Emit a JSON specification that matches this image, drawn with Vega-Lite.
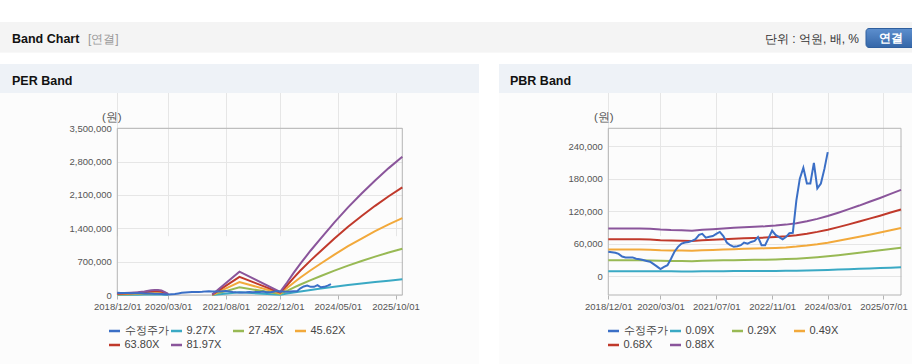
{
"$schema":"https://vega.github.io/schema/vega-lite/v6.json",
"width":912,"height":364,"autosize":{"type":"none"},"padding":0,"background":"#fcfcfc",
"config":{"view":{"stroke":null},"font":"Liberation Sans","axisX":{"labelFlush":false}},
"datasets":{
"price":[
{"d":"2018-12-01","s":"수정주가","v":45000},{"d":"2019-01-01","s":"수정주가","v":44000},{"d":"2019-02-01","s":"수정주가","v":43000},{"d":"2019-03-01","s":"수정주가","v":41000},{"d":"2019-04-01","s":"수정주가","v":36000},{"d":"2019-05-01","s":"수정주가","v":34500},{"d":"2019-06-01","s":"수정주가","v":34500},{"d":"2019-07-01","s":"수정주가","v":34500},{"d":"2019-08-01","s":"수정주가","v":32000},{"d":"2019-09-01","s":"수정주가","v":31000},{"d":"2019-10-01","s":"수정주가","v":29500},{"d":"2019-11-01","s":"수정주가","v":28000},{"d":"2019-12-01","s":"수정주가","v":26500},{"d":"2020-01-01","s":"수정주가","v":22000},{"d":"2020-02-01","s":"수정주가","v":17500},{"d":"2020-03-01","s":"수정주가","v":12900},{"d":"2020-04-01","s":"수정주가","v":17000},{"d":"2020-05-01","s":"수정주가","v":20000},{"d":"2020-06-01","s":"수정주가","v":32000},{"d":"2020-07-01","s":"수정주가","v":45000},{"d":"2020-08-01","s":"수정주가","v":54000},{"d":"2020-09-01","s":"수정주가","v":60000},{"d":"2020-10-01","s":"수정주가","v":62000},{"d":"2020-11-01","s":"수정주가","v":63000},{"d":"2020-12-01","s":"수정주가","v":65000},{"d":"2021-01-01","s":"수정주가","v":68000},{"d":"2021-02-01","s":"수정주가","v":76000},{"d":"2021-03-01","s":"수정주가","v":78000},{"d":"2021-04-01","s":"수정주가","v":71000},{"d":"2021-05-01","s":"수정주가","v":72500},{"d":"2021-06-01","s":"수정주가","v":74000},{"d":"2021-07-01","s":"수정주가","v":78000},{"d":"2021-08-01","s":"수정주가","v":81500},{"d":"2021-09-01","s":"수정주가","v":74000},{"d":"2021-10-01","s":"수정주가","v":62000},{"d":"2021-11-01","s":"수정주가","v":57000},{"d":"2021-12-01","s":"수정주가","v":54000},{"d":"2022-01-01","s":"수정주가","v":55000},{"d":"2022-02-01","s":"수정주가","v":57000},{"d":"2022-03-01","s":"수정주가","v":62000},{"d":"2022-04-01","s":"수정주가","v":60000},{"d":"2022-05-01","s":"수정주가","v":63000},{"d":"2022-06-01","s":"수정주가","v":65000},{"d":"2022-07-01","s":"수정주가","v":72000},{"d":"2022-08-01","s":"수정주가","v":57000},{"d":"2022-09-01","s":"수정주가","v":57000},{"d":"2022-10-01","s":"수정주가","v":70000},{"d":"2022-11-01","s":"수정주가","v":84000},{"d":"2022-12-01","s":"수정주가","v":76000},{"d":"2023-01-01","s":"수정주가","v":72000},{"d":"2023-02-01","s":"수정주가","v":68000},{"d":"2023-03-01","s":"수정주가","v":72000},{"d":"2023-04-01","s":"수정주가","v":79000},{"d":"2023-05-01","s":"수정주가","v":80000},{"d":"2023-06-01","s":"수정주가","v":140000},{"d":"2023-07-01","s":"수정주가","v":180000},{"d":"2023-08-01","s":"수정주가","v":200000},{"d":"2023-09-01","s":"수정주가","v":171000},{"d":"2023-10-01","s":"수정주가","v":171000},{"d":"2023-11-01","s":"수정주가","v":209000},{"d":"2023-12-01","s":"수정주가","v":162000},{"d":"2024-01-01","s":"수정주가","v":171000},{"d":"2024-02-01","s":"수정주가","v":198000},{"d":"2024-03-01","s":"수정주가","v":229000}
],
"per":[
{"d":"2018-12-01","s":"9.27X","v":4172,"g":1},{"d":"2018-12-01","s":"27.45X","v":12353,"g":1},{"d":"2018-12-01","s":"45.62X","v":20529,"g":1},{"d":"2018-12-01","s":"63.80X","v":28710,"g":1},{"d":"2018-12-01","s":"81.97X","v":36887,"g":1},
{"d":"2019-02-01","s":"9.27X","v":4820,"g":1},{"d":"2019-02-01","s":"27.45X","v":14274,"g":1},{"d":"2019-02-01","s":"45.62X","v":23722,"g":1},{"d":"2019-02-01","s":"63.80X","v":33176,"g":1},{"d":"2019-02-01","s":"81.97X","v":42624,"g":1},
{"d":"2019-04-01","s":"9.27X","v":5469,"g":1},{"d":"2019-04-01","s":"27.45X","v":16196,"g":1},{"d":"2019-04-01","s":"45.62X","v":26916,"g":1},{"d":"2019-04-01","s":"63.80X","v":37642,"g":1},{"d":"2019-04-01","s":"81.97X","v":48362,"g":1},
{"d":"2019-06-01","s":"9.27X","v":6489,"g":1},{"d":"2019-06-01","s":"27.45X","v":19215,"g":1},{"d":"2019-06-01","s":"45.62X","v":31934,"g":1},{"d":"2019-06-01","s":"63.80X","v":44660,"g":1},{"d":"2019-06-01","s":"81.97X","v":57379,"g":1},
{"d":"2019-08-01","s":"9.27X","v":8065,"g":1},{"d":"2019-08-01","s":"27.45X","v":23882,"g":1},{"d":"2019-08-01","s":"45.62X","v":39689,"g":1},{"d":"2019-08-01","s":"63.80X","v":55506,"g":1},{"d":"2019-08-01","s":"81.97X","v":71314,"g":1},
{"d":"2019-10-01","s":"9.27X","v":11124,"g":1},{"d":"2019-10-01","s":"27.45X","v":32940,"g":1},{"d":"2019-10-01","s":"45.62X","v":54744,"g":1},{"d":"2019-10-01","s":"63.80X","v":76560,"g":1},{"d":"2019-10-01","s":"81.97X","v":98364,"g":1},
{"d":"2019-11-01","s":"9.27X","v":11958,"g":1},{"d":"2019-11-01","s":"27.45X","v":35411,"g":1},{"d":"2019-11-01","s":"45.62X","v":58850,"g":1},{"d":"2019-11-01","s":"63.80X","v":82302,"g":1},{"d":"2019-11-01","s":"81.97X","v":105741,"g":1},
{"d":"2019-12-01","s":"9.27X","v":11866,"g":1},{"d":"2019-12-01","s":"27.45X","v":35136,"g":1},{"d":"2019-12-01","s":"45.62X","v":58394,"g":1},{"d":"2019-12-01","s":"63.80X","v":81664,"g":1},{"d":"2019-12-01","s":"81.97X","v":104922,"g":1},
{"d":"2020-01-01","s":"9.27X","v":10661,"g":1},{"d":"2020-01-01","s":"27.45X","v":31568,"g":1},{"d":"2020-01-01","s":"45.62X","v":52463,"g":1},{"d":"2020-01-01","s":"63.80X","v":73370,"g":1},{"d":"2020-01-01","s":"81.97X","v":94266,"g":1},
{"d":"2020-02-01","s":"9.27X","v":6953,"g":1},{"d":"2020-02-01","s":"27.45X","v":20588,"g":1},{"d":"2020-02-01","s":"45.62X","v":34215,"g":1},{"d":"2020-02-01","s":"63.80X","v":47850,"g":1},{"d":"2020-02-01","s":"81.97X","v":61478,"g":1},
{"d":"2020-03-01","s":"9.27X","v":2596,"g":1},{"d":"2020-03-01","s":"27.45X","v":7686,"g":1},{"d":"2020-03-01","s":"45.62X","v":12774,"g":1},{"d":"2020-03-01","s":"63.80X","v":17864,"g":1},{"d":"2020-03-01","s":"81.97X","v":22952,"g":1},
{"d":"2021-04-01","s":"9.27X","v":927,"g":2},{"d":"2021-04-01","s":"27.45X","v":2745,"g":2},{"d":"2021-04-01","s":"45.62X","v":4562,"g":2},{"d":"2021-04-01","s":"63.80X","v":6380,"g":2},{"d":"2021-04-01","s":"81.97X","v":8197,"g":2},
{"d":"2021-12-01","s":"9.27X","v":55435,"g":2},{"d":"2021-12-01","s":"27.45X","v":164151,"g":2},{"d":"2021-12-01","s":"45.62X","v":272808,"g":2},{"d":"2021-12-01","s":"63.80X","v":381524,"g":2},{"d":"2021-12-01","s":"81.97X","v":490181,"g":2},
{"d":"2022-12-01","s":"9.27X","v":7231,"g":2},{"d":"2022-12-01","s":"27.45X","v":21411,"g":2},{"d":"2022-12-01","s":"45.62X","v":35584,"g":2},{"d":"2022-12-01","s":"63.80X","v":49764,"g":2},{"d":"2022-12-01","s":"81.97X","v":63937,"g":2},
{"d":"2023-02-01","s":"9.27X","v":29664,"g":2},{"d":"2023-02-01","s":"27.45X","v":87840,"g":2},{"d":"2023-02-01","s":"45.62X","v":145984,"g":2},{"d":"2023-02-01","s":"63.80X","v":204160,"g":2},{"d":"2023-02-01","s":"81.97X","v":262304,"g":2},
{"d":"2023-04-01","s":"9.27X","v":52376,"g":2},{"d":"2023-04-01","s":"27.45X","v":155093,"g":2},{"d":"2023-04-01","s":"45.62X","v":257753,"g":2},{"d":"2023-04-01","s":"63.80X","v":360470,"g":2},{"d":"2023-04-01","s":"81.97X","v":463131,"g":2},
{"d":"2023-06-01","s":"9.27X","v":74624,"g":2},{"d":"2023-06-01","s":"27.45X","v":220973,"g":2},{"d":"2023-06-01","s":"45.62X","v":367241,"g":2},{"d":"2023-06-01","s":"63.80X","v":513590,"g":2},{"d":"2023-06-01","s":"81.97X","v":659859,"g":2},
{"d":"2023-09-01","s":"9.27X","v":105678,"g":2},{"d":"2023-09-01","s":"27.45X","v":312930,"g":2},{"d":"2023-09-01","s":"45.62X","v":520068,"g":2},{"d":"2023-09-01","s":"63.80X","v":727320,"g":2},{"d":"2023-09-01","s":"81.97X","v":934458,"g":2},
{"d":"2023-12-01","s":"9.27X","v":134415,"g":2},{"d":"2023-12-01","s":"27.45X","v":398025,"g":2},{"d":"2023-12-01","s":"45.62X","v":661490,"g":2},{"d":"2023-12-01","s":"63.80X","v":925100,"g":2},{"d":"2023-12-01","s":"81.97X","v":1188565,"g":2},
{"d":"2024-04-01","s":"9.27X","v":172422,"g":2},{"d":"2024-04-01","s":"27.45X","v":510570,"g":2},{"d":"2024-04-01","s":"45.62X","v":848532,"g":2},{"d":"2024-04-01","s":"63.80X","v":1186680,"g":2},{"d":"2024-04-01","s":"81.97X","v":1524642,"g":2},
{"d":"2024-08-01","s":"9.27X","v":208112,"g":2},{"d":"2024-08-01","s":"27.45X","v":616253,"g":2},{"d":"2024-08-01","s":"45.62X","v":1024169,"g":2},{"d":"2024-08-01","s":"63.80X","v":1432310,"g":2},{"d":"2024-08-01","s":"81.97X","v":1840227,"g":2},
{"d":"2024-12-01","s":"9.27X","v":241020,"g":2},{"d":"2024-12-01","s":"27.45X","v":713700,"g":2},{"d":"2024-12-01","s":"45.62X","v":1186120,"g":2},{"d":"2024-12-01","s":"63.80X","v":1658800,"g":2},{"d":"2024-12-01","s":"81.97X","v":2131220,"g":2},
{"d":"2025-04-01","s":"9.27X","v":272075,"g":2},{"d":"2025-04-01","s":"27.45X","v":805658,"g":2},{"d":"2025-04-01","s":"45.62X","v":1338947,"g":2},{"d":"2025-04-01","s":"63.80X","v":1872530,"g":2},{"d":"2025-04-01","s":"81.97X","v":2405820,"g":2},
{"d":"2025-08-01","s":"9.27X","v":301275,"g":2},{"d":"2025-08-01","s":"27.45X","v":892125,"g":2},{"d":"2025-08-01","s":"45.62X","v":1482650,"g":2},{"d":"2025-08-01","s":"63.80X","v":2073500,"g":2},{"d":"2025-08-01","s":"81.97X","v":2664025,"g":2},
{"d":"2025-12-01","s":"9.27X","v":328158,"g":2},{"d":"2025-12-01","s":"27.45X","v":971730,"g":2},{"d":"2025-12-01","s":"45.62X","v":1614948,"g":2},{"d":"2025-12-01","s":"63.80X","v":2258520,"g":2},{"d":"2025-12-01","s":"81.97X","v":2901738,"g":2}
],
"pbr":[
{"d":"2018-12-01","s":"0.09X","v":9000},{"d":"2018-12-01","s":"0.29X","v":29000},{"d":"2018-12-01","s":"0.49X","v":49000},{"d":"2018-12-01","s":"0.68X","v":68000},{"d":"2018-12-01","s":"0.88X","v":88000},
{"d":"2019-09-01","s":"0.09X","v":9000},{"d":"2019-09-01","s":"0.29X","v":29000},{"d":"2019-09-01","s":"0.49X","v":49000},{"d":"2019-09-01","s":"0.68X","v":68000},{"d":"2019-09-01","s":"0.88X","v":88000},
{"d":"2019-12-01","s":"0.09X","v":8955},{"d":"2019-12-01","s":"0.29X","v":28855},{"d":"2019-12-01","s":"0.49X","v":48755},{"d":"2019-12-01","s":"0.68X","v":67660},{"d":"2019-12-01","s":"0.88X","v":87560},
{"d":"2020-03-01","s":"0.09X","v":8775},{"d":"2020-03-01","s":"0.29X","v":28275},{"d":"2020-03-01","s":"0.49X","v":47775},{"d":"2020-03-01","s":"0.68X","v":66300},{"d":"2020-03-01","s":"0.88X","v":85800},
{"d":"2020-06-01","s":"0.09X","v":8685},{"d":"2020-06-01","s":"0.29X","v":27985},{"d":"2020-06-01","s":"0.49X","v":47285},{"d":"2020-06-01","s":"0.68X","v":65620},{"d":"2020-06-01","s":"0.88X","v":84920},
{"d":"2020-09-01","s":"0.09X","v":8640},{"d":"2020-09-01","s":"0.29X","v":27840},{"d":"2020-09-01","s":"0.49X","v":47040},{"d":"2020-09-01","s":"0.68X","v":65280},{"d":"2020-09-01","s":"0.88X","v":84480},
{"d":"2020-12-01","s":"0.09X","v":8550},{"d":"2020-12-01","s":"0.29X","v":27550},{"d":"2020-12-01","s":"0.49X","v":46550},{"d":"2020-12-01","s":"0.68X","v":64600},{"d":"2020-12-01","s":"0.88X","v":83600},
{"d":"2021-03-01","s":"0.09X","v":8730},{"d":"2021-03-01","s":"0.29X","v":28130},{"d":"2021-03-01","s":"0.49X","v":47530},{"d":"2021-03-01","s":"0.68X","v":65960},{"d":"2021-03-01","s":"0.88X","v":85360},
{"d":"2021-06-01","s":"0.09X","v":8865},{"d":"2021-06-01","s":"0.29X","v":28565},{"d":"2021-06-01","s":"0.49X","v":48265},{"d":"2021-06-01","s":"0.68X","v":66980},{"d":"2021-06-01","s":"0.88X","v":86680},
{"d":"2021-09-01","s":"0.09X","v":9000},{"d":"2021-09-01","s":"0.29X","v":29000},{"d":"2021-09-01","s":"0.49X","v":49000},{"d":"2021-09-01","s":"0.68X","v":68000},{"d":"2021-09-01","s":"0.88X","v":88000},
{"d":"2021-12-01","s":"0.09X","v":9135},{"d":"2021-12-01","s":"0.29X","v":29435},{"d":"2021-12-01","s":"0.49X","v":49735},{"d":"2021-12-01","s":"0.68X","v":69020},{"d":"2021-12-01","s":"0.88X","v":89320},
{"d":"2022-03-01","s":"0.09X","v":9225},{"d":"2022-03-01","s":"0.29X","v":29725},{"d":"2022-03-01","s":"0.49X","v":50225},{"d":"2022-03-01","s":"0.68X","v":69700},{"d":"2022-03-01","s":"0.88X","v":90200},
{"d":"2022-06-01","s":"0.09X","v":9315},{"d":"2022-06-01","s":"0.29X","v":30015},{"d":"2022-06-01","s":"0.49X","v":50715},{"d":"2022-06-01","s":"0.68X","v":70380},{"d":"2022-06-01","s":"0.88X","v":91080},
{"d":"2022-09-01","s":"0.09X","v":9405},{"d":"2022-09-01","s":"0.29X","v":30305},{"d":"2022-09-01","s":"0.49X","v":51205},{"d":"2022-09-01","s":"0.68X","v":71060},{"d":"2022-09-01","s":"0.88X","v":91960},
{"d":"2022-12-01","s":"0.09X","v":9540},{"d":"2022-12-01","s":"0.29X","v":30740},{"d":"2022-12-01","s":"0.49X","v":51940},{"d":"2022-12-01","s":"0.68X","v":72080},{"d":"2022-12-01","s":"0.88X","v":93280},
{"d":"2023-03-01","s":"0.09X","v":9720},{"d":"2023-03-01","s":"0.29X","v":31320},{"d":"2023-03-01","s":"0.49X","v":52920},{"d":"2023-03-01","s":"0.68X","v":73440},{"d":"2023-03-01","s":"0.88X","v":95040},
{"d":"2023-06-01","s":"0.09X","v":9990},{"d":"2023-06-01","s":"0.29X","v":32190},{"d":"2023-06-01","s":"0.49X","v":54390},{"d":"2023-06-01","s":"0.68X","v":75480},{"d":"2023-06-01","s":"0.88X","v":97680},
{"d":"2023-09-01","s":"0.09X","v":10350},{"d":"2023-09-01","s":"0.29X","v":33350},{"d":"2023-09-01","s":"0.49X","v":56350},{"d":"2023-09-01","s":"0.68X","v":78200},{"d":"2023-09-01","s":"0.88X","v":101200},
{"d":"2023-12-01","s":"0.09X","v":10800},{"d":"2023-12-01","s":"0.29X","v":34800},{"d":"2023-12-01","s":"0.49X","v":58800},{"d":"2023-12-01","s":"0.68X","v":81600},{"d":"2023-12-01","s":"0.88X","v":105600},
{"d":"2024-03-01","s":"0.09X","v":11340},{"d":"2024-03-01","s":"0.29X","v":36540},{"d":"2024-03-01","s":"0.49X","v":61740},{"d":"2024-03-01","s":"0.68X","v":85680},{"d":"2024-03-01","s":"0.88X","v":110880},
{"d":"2024-06-01","s":"0.09X","v":11970},{"d":"2024-06-01","s":"0.29X","v":38570},{"d":"2024-06-01","s":"0.49X","v":65170},{"d":"2024-06-01","s":"0.68X","v":90440},{"d":"2024-06-01","s":"0.88X","v":117040},
{"d":"2024-09-01","s":"0.09X","v":12645},{"d":"2024-09-01","s":"0.29X","v":40745},{"d":"2024-09-01","s":"0.49X","v":68845},{"d":"2024-09-01","s":"0.68X","v":95540},{"d":"2024-09-01","s":"0.88X","v":123640},
{"d":"2024-12-01","s":"0.09X","v":13320},{"d":"2024-12-01","s":"0.29X","v":42920},{"d":"2024-12-01","s":"0.49X","v":72520},{"d":"2024-12-01","s":"0.68X","v":100640},{"d":"2024-12-01","s":"0.88X","v":130240},
{"d":"2025-03-01","s":"0.09X","v":14040},{"d":"2025-03-01","s":"0.29X","v":45240},{"d":"2025-03-01","s":"0.49X","v":76440},{"d":"2025-03-01","s":"0.68X","v":106080},{"d":"2025-03-01","s":"0.88X","v":137280},
{"d":"2025-06-01","s":"0.09X","v":14760},{"d":"2025-06-01","s":"0.29X","v":47560},{"d":"2025-06-01","s":"0.49X","v":80360},{"d":"2025-06-01","s":"0.68X","v":111520},{"d":"2025-06-01","s":"0.88X","v":144320},
{"d":"2025-09-01","s":"0.09X","v":15525},{"d":"2025-09-01","s":"0.29X","v":50025},{"d":"2025-09-01","s":"0.49X","v":84525},{"d":"2025-09-01","s":"0.68X","v":117300},{"d":"2025-09-01","s":"0.88X","v":151800},
{"d":"2025-12-01","s":"0.09X","v":16290},{"d":"2025-12-01","s":"0.29X","v":52490},{"d":"2025-12-01","s":"0.49X","v":88690},{"d":"2025-12-01","s":"0.68X","v":123080},{"d":"2025-12-01","s":"0.88X","v":159280}
]
},
"layer":[
{"data":{"values":[{}]},"mark":{"type":"rect","x":0,"x2":912,"y":0,"y2":22,"fill":"#ffffff"},"encoding":{}},
{"data":{"values":[{}]},"mark":{"type":"rect","x":0,"x2":912,"y":53,"y2":64,"fill":"#ffffff"},"encoding":{}},
{"data":{"values":[{}]},"mark":{"type":"rect","x":479,"x2":499,"y":53,"y2":364,"fill":"#ffffff"},"encoding":{}},
{"data":{"values":[{}]},"mark":{"type":"rect","x":0,"x2":912,"y":22,"y2":52.5,"fill":"#f4f4f4"},"encoding":{}},
{"data":{"values":[{}]},"mark":{"type":"rule","x":0,"x2":912,"y":21.5,"y2":21.5,"stroke":"#c4c4c4","strokeWidth":1},"encoding":{}},
{"data":{"values":[{}]},"mark":{"type":"rule","x":0,"x2":912,"y":52.5,"y2":52.5,"stroke":"#a8a8a8","strokeWidth":1},"encoding":{}},
{"data":{"values":[{}]},"mark":{"type":"rule","x":0,"x2":912,"y":53.5,"y2":53.5,"stroke":"#d6d6d6","strokeWidth":1},"encoding":{}},
{"data":{"values":[{}]},"mark":{"type":"rect","x":0,"x2":479,"y":64,"y2":93,"fill":"#eef2f7"},"encoding":{}},
{"data":{"values":[{}]},"mark":{"type":"rect","x":499,"x2":912,"y":64,"y2":93,"fill":"#eef2f7"},"encoding":{}},
{"data":{"values":[{}]},"mark":{"type":"rule","x":0,"x2":479,"y":64.5,"y2":64.5,"stroke":"#d8dce2"},"encoding":{}},
{"data":{"values":[{}]},"mark":{"type":"rule","x":499,"x2":912,"y":64.5,"y2":64.5,"stroke":"#d8dce2"},"encoding":{}},
{"data":{"values":[{}]},"mark":{"type":"rule","x":0,"x2":479,"y":363.5,"y2":363.5,"stroke":"#d4d4d4"},"encoding":{}},
{"data":{"values":[{}]},"mark":{"type":"rule","x":499,"x2":912,"y":363.5,"y2":363.5,"stroke":"#d4d4d4"},"encoding":{}},
{"data":{"values":[{}]},"mark":{"type":"text","x":12,"y":38.5,"text":"Band Chart","fontSize":12.5,"fontWeight":"bold","align":"left","baseline":"middle","color":"#111111"},"encoding":{}},
{"data":{"values":[{}]},"mark":{"type":"text","x":88,"y":38.5,"text":"[연결]","fontSize":12,"align":"left","baseline":"middle","color":"#999999"},"encoding":{}},
{"data":{"values":[{}]},"mark":{"type":"text","x":859,"y":39,"text":"단위 : 억원, 배, %","fontSize":12,"align":"right","baseline":"middle","color":"#333333"},"encoding":{}},
{"data":{"values":[{}]},"mark":{"type":"rect","x":866,"x2":918,"y":28.5,"y2":47.5,"cornerRadius":3,"stroke":"#2f5f9e","fill":{"gradient":"linear","x1":0,"y1":0,"x2":0,"y2":1,"stops":[{"offset":0,"color":"#5d8fce"},{"offset":1,"color":"#3466a8"}]}},"encoding":{}},
{"data":{"values":[{}]},"mark":{"type":"text","x":891,"y":38,"text":"연결","fontSize":12,"fontWeight":"bold","align":"center","baseline":"middle","color":"#ffffff"},"encoding":{}},
{"data":{"values":[{}]},"mark":{"type":"text","x":12,"y":80.5,"text":"PER Band","fontSize":12.5,"fontWeight":"bold","align":"left","baseline":"middle","color":"#111111"},"encoding":{}},
{"data":{"values":[{}]},"mark":{"type":"text","x":510,"y":80.5,"text":"PBR Band","fontSize":12.5,"fontWeight":"bold","align":"left","baseline":"middle","color":"#111111"},"encoding":{}},
{
"layer":[
{"data":{"values":[{}]},"mark":{"type":"rect","fill":"transparent","stroke":"#b4b4b4","strokeWidth":1},
 "encoding":{
  "x":{"datum":{"year":2018,"month":12,"date":1,"utc":true},"type":"temporal","scale":{"type":"utc","domain":[{"year":2018,"month":12,"date":1,"utc":true},{"year":2025,"month":12,"date":1,"utc":true}],"range":[117.3,402.3]},
   "axis":{"orient":"bottom","offset":-69,"title":null,"values":[{"year":2018,"month":12,"date":1,"utc":true},{"year":2020,"month":3,"date":1,"utc":true},{"year":2021,"month":8,"date":1,"utc":true},{"year":2022,"month":12,"date":1,"utc":true},{"year":2024,"month":5,"date":1,"utc":true},{"year":2025,"month":10,"date":1,"utc":true}],"labelExpr":"utcFormat(datum.value, '%Y/%m/%d')","labelFlush":false,"labelOverlap":false,"labelFontSize":9.5,"labelColor":"#555555","labelPadding":2,"domain":false,"ticks":true,"tickSize":4,"tickColor":"#b4b4b4","grid":true,"gridColor":"#e6e6e6"}},
  "x2":{"datum":{"year":2025,"month":12,"date":1,"utc":true}},
  "y":{"datum":0,"type":"quantitative","scale":{"domain":[0,3500000],"range":[295,128.3],"nice":false,"zero":false},
   "axis":{"orient":"left","offset":-117.3,"values":[0,700000,1400000,2100000,2800000,3500000],"format":",.0f","formatType":"number","domain":false,"ticks":false,"tickSize":0,"labelPadding":6,"labelFontSize":9.5,"labelColor":"#555555","grid":true,"gridColor":"#e6e6e6","title":"(원)","titleAngle":0,"titleAlign":"center","titleBaseline":"middle","titleX":-6,"titleY":117.5,"titleFontSize":11.5,"titleFontWeight":"normal","titleColor":"#555555"}},
  "y2":{"datum":3500000}}},
{"data":{"name":"per"},"mark":{"type":"line","strokeWidth":2},
 "encoding":{
  "x":{"field":"d","type":"temporal","scale":{"type":"utc","domain":[{"year":2018,"month":12,"date":1,"utc":true},{"year":2025,"month":12,"date":1,"utc":true}],"range":[117.3,402.3]},
   "axis":{"orient":"bottom","offset":-69,"title":null,"values":[{"year":2018,"month":12,"date":1,"utc":true},{"year":2020,"month":3,"date":1,"utc":true},{"year":2021,"month":8,"date":1,"utc":true},{"year":2022,"month":12,"date":1,"utc":true},{"year":2024,"month":5,"date":1,"utc":true},{"year":2025,"month":10,"date":1,"utc":true}],"labelExpr":"utcFormat(datum.value, '%Y/%m/%d')","labelFlush":false,"labelOverlap":false,"labelFontSize":9.5,"labelColor":"#555555","labelPadding":2,"domain":false,"ticks":true,"tickSize":4,"tickColor":"#b4b4b4","grid":true,"gridColor":"#e6e6e6"}},
  "y":{"field":"v","type":"quantitative","scale":{"domain":[0,3500000],"range":[295,128.3],"nice":false,"zero":false},
   "axis":{"orient":"left","offset":-117.3,"values":[0,700000,1400000,2100000,2800000,3500000],"format":",.0f","formatType":"number","domain":false,"ticks":false,"tickSize":0,"labelPadding":6,"labelFontSize":9.5,"labelColor":"#555555","grid":true,"gridColor":"#e6e6e6","title":"(원)","titleAngle":0,"titleAlign":"center","titleBaseline":"middle","titleX":-6,"titleY":117.5,"titleFontSize":11.5,"titleFontWeight":"normal","titleColor":"#555555"}},
  "color":{"field":"s","type":"nominal","scale":{"domain":["수정주가","9.27X","27.45X","45.62X","63.80X","81.97X"],"range":["#3b6fc6","#3aa9c4","#98b954","#f2a93b","#c0392b","#8a559b"]},
   "legend":{"orient":"none","direction":"horizontal","legendX":107.5,"legendY":324,"columns":4,"gridAlign":"all","columnPadding":-3,"rowPadding":2,"symbolType":"stroke","symbolSize":121,"symbolStrokeWidth":2.5,"labelFontSize":11,"labelColor":"#444444","labelOffset":3,"title":null,"padding":0}},
  "detail":{"field":"g","type":"nominal"}}},
{"data":{"name":"price"},"mark":{"type":"line","strokeWidth":2},
 "encoding":{"x":{"field":"d","type":"temporal"},"y":{"field":"v","type":"quantitative"},"color":{"field":"s","type":"nominal"}}}
]
},
{
"layer":[
{"data":{"values":[{}]},"mark":{"type":"rect","fill":"transparent","stroke":"#b4b4b4","strokeWidth":1},
 "encoding":{
  "x":{"datum":{"year":2018,"month":12,"date":1,"utc":true},"type":"temporal","scale":{"type":"utc","domain":[{"year":2018,"month":12,"date":1,"utc":true},{"year":2025,"month":12,"date":1,"utc":true}],"range":[608.3,901]},
   "axis":{"orient":"bottom","offset":-69,"title":null,"values":[{"year":2018,"month":12,"date":1,"utc":true},{"year":2020,"month":3,"date":1,"utc":true},{"year":2021,"month":7,"date":1,"utc":true},{"year":2022,"month":11,"date":1,"utc":true},{"year":2024,"month":3,"date":1,"utc":true},{"year":2025,"month":7,"date":1,"utc":true}],"labelExpr":"utcFormat(datum.value, '%Y/%m/%d')","labelFlush":false,"labelOverlap":false,"labelFontSize":9.5,"labelColor":"#555555","labelPadding":2,"domain":false,"ticks":true,"tickSize":4,"tickColor":"#b4b4b4","grid":true,"gridColor":"#e6e6e6"}},
  "x2":{"datum":{"year":2025,"month":12,"date":1,"utc":true}},
  "y":{"datum":-35000,"type":"quantitative","scale":{"domain":[-35000,273000],"range":[295,128.3],"nice":false,"zero":false},
   "axis":{"orient":"left","offset":-608.3,"values":[0,60000,120000,180000,240000],"format":",.0f","formatType":"number","domain":false,"ticks":false,"tickSize":0,"labelPadding":6,"labelFontSize":9.5,"labelColor":"#555555","grid":true,"gridColor":"#e6e6e6","title":"(원)","titleAngle":0,"titleAlign":"center","titleBaseline":"middle","titleX":-5,"titleY":117.5,"titleFontSize":11.5,"titleFontWeight":"normal","titleColor":"#555555"}},
  "y2":{"datum":273000}}},
{"data":{"name":"pbr"},"mark":{"type":"line","strokeWidth":2},
 "encoding":{
  "x":{"field":"d","type":"temporal","scale":{"type":"utc","domain":[{"year":2018,"month":12,"date":1,"utc":true},{"year":2025,"month":12,"date":1,"utc":true}],"range":[608.3,901]},
   "axis":{"orient":"bottom","offset":-69,"title":null,"values":[{"year":2018,"month":12,"date":1,"utc":true},{"year":2020,"month":3,"date":1,"utc":true},{"year":2021,"month":7,"date":1,"utc":true},{"year":2022,"month":11,"date":1,"utc":true},{"year":2024,"month":3,"date":1,"utc":true},{"year":2025,"month":7,"date":1,"utc":true}],"labelExpr":"utcFormat(datum.value, '%Y/%m/%d')","labelFlush":false,"labelOverlap":false,"labelFontSize":9.5,"labelColor":"#555555","labelPadding":2,"domain":false,"ticks":true,"tickSize":4,"tickColor":"#b4b4b4","grid":true,"gridColor":"#e6e6e6"}},
  "y":{"field":"v","type":"quantitative","scale":{"domain":[-35000,273000],"range":[295,128.3],"nice":false,"zero":false},
   "axis":{"orient":"left","offset":-608.3,"values":[0,60000,120000,180000,240000],"format":",.0f","formatType":"number","domain":false,"ticks":false,"tickSize":0,"labelPadding":6,"labelFontSize":9.5,"labelColor":"#555555","grid":true,"gridColor":"#e6e6e6","title":"(원)","titleAngle":0,"titleAlign":"center","titleBaseline":"middle","titleX":-5,"titleY":117.5,"titleFontSize":11.5,"titleFontWeight":"normal","titleColor":"#555555"}},
  "color":{"field":"s","type":"nominal","scale":{"domain":["수정주가","0.09X","0.29X","0.49X","0.68X","0.88X"],"range":["#3b6fc6","#3aa9c4","#98b954","#f2a93b","#c0392b","#8a559b"]},
   "legend":{"orient":"none","direction":"horizontal","legendX":606.5,"legendY":324,"columns":4,"gridAlign":"all","columnPadding":-3,"rowPadding":2,"symbolType":"stroke","symbolSize":121,"symbolStrokeWidth":2.5,"labelFontSize":11,"labelColor":"#444444","labelOffset":3,"title":null,"padding":0}}}},
{"data":{"name":"price"},"mark":{"type":"line","strokeWidth":2},
 "encoding":{"x":{"field":"d","type":"temporal"},"y":{"field":"v","type":"quantitative"},"color":{"field":"s","type":"nominal"}}}
]
}
],
"resolve":{"scale":{"x":"independent","y":"independent","color":"independent"},"axis":{"x":"independent","y":"independent"},"legend":{"color":"independent"}}
}
